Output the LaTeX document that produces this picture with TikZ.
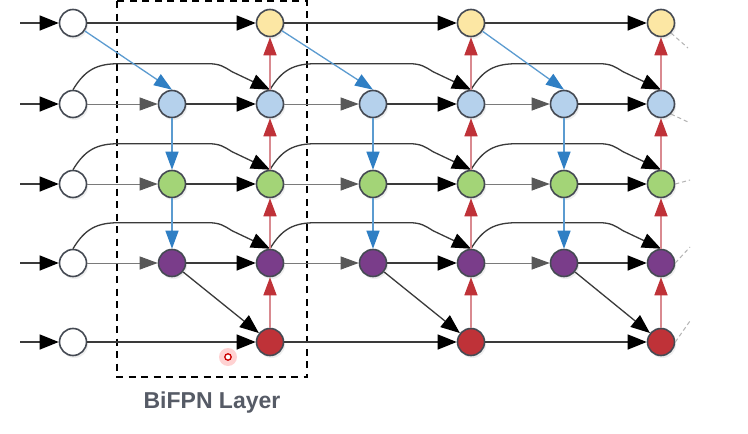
\documentclass[tikz,border=0pt]{standalone}
\usepackage{fontspec}
\setmainfont{Liberation Sans}
\usetikzlibrary{arrows.meta,calc,shadows}
\definecolor{cYel}{HTML}{FCE7A4}
\definecolor{cBlu}{HTML}{B5D1EC}
\definecolor{cGrn}{HTML}{A3D477}
\definecolor{cPur}{HTML}{7A3D8A}
\definecolor{cRed}{HTML}{BF3238}
\definecolor{cRim}{HTML}{454a53}
\definecolor{cLine}{HTML}{3a3a3a}
\definecolor{cLight}{HTML}{7a7a7a}
\definecolor{cBlueL}{HTML}{5b9bd0}
\definecolor{cBlueH}{HTML}{2f7fc4}
\definecolor{cRedL}{HTML}{d98a90}
\definecolor{cTxt}{HTML}{565b66}
\tikzset{
  fnode/.style={circle,draw=cRim,line width=1.6pt,minimum size=27pt,inner sep=0pt,
    drop shadow={opacity=0.13,shadow xshift=1.5pt,shadow yshift=-2.5pt}},
  blk/.style={draw=cLine,line width=1.3pt,-{Triangle[length=19pt,width=15pt,color=black,fill=black]}},
  lgt/.style={draw=cLight,line width=1pt,-{Triangle[length=18pt,width=13pt,fill=cLine!85,color=cLine!85]}},
  blu/.style={draw=cBlueL,line width=1.3pt,-{Triangle[length=18pt,width=13pt,color=cBlueH,fill=cBlueH]}},
  rdd/.style={draw=cRedL,line width=1.6pt,-{Triangle[length=18pt,width=13pt,color=cRed,fill=cRed]}},
  skp/.style={draw=cLine,line width=1.3pt,-{Triangle[length=19pt,width=15pt,color=black,fill=black]}},
  rmark/.style={draw=gray!60,line width=1pt,dash pattern=on 4pt off 3pt},
}
\begin{document}
\begin{tikzpicture}[x=1pt,y=-1pt]
\useasboundingbox (0,0) rectangle (748,434);
\fill[white] (0,0) rectangle (748,434);
% dashed layer box
\draw[black,line width=2pt,dash pattern=on 7pt off 5.5pt] (117,1) rectangle (307,377);
\node[font=\bfseries,text=cTxt,scale=2.3] (lbl) at (212,403) {BiFPN Layer};
% cursor mark
\fill[red!25,opacity=0.7] (228,357) circle (9pt);
\draw[red!80!black,line width=1.3pt,fill=white] (228,357) circle (3.2pt) node (cur) {};
% nodes
\foreach \r/\y/\c in {0/23/white,1/104/white,2/184/white,3/263/white,4/342/white}
  \node[fnode,fill=\c] (i\r) at (73,\y) {};
\foreach \cx/\c in {2/270,4/471,6/661}{
  \node[fnode,fill=cYel] (o\cx0) at (\c,23) {};
  \node[fnode,fill=cBlu] (o\cx1) at (\c,104) {};
  \node[fnode,fill=cGrn] (o\cx2) at (\c,184) {};
  \node[fnode,fill=cPur] (o\cx3) at (\c,263) {};
  \node[fnode,fill=cRed] (o\cx4) at (\c,342) {};
}
\foreach \cx/\c in {1/172,3/373,5/564}{
  \node[fnode,fill=cBlu] (m\cx1) at (\c,104) {};
  \node[fnode,fill=cGrn] (m\cx2) at (\c,184) {};
  \node[fnode,fill=cPur] (m\cx3) at (\c,263) {};
}
% input arrows
\foreach \r/\y in {0/23,1/104,2/184,3/263,4/342}{
  \coordinate (s\r) at (20,\y);
  \draw[blk] (s\r) -- (i\r);
}
% rows 0 and 4
\foreach \r in {0,4}{
  \draw[blk] (i\r) -- (o2\r);
  \draw[blk] (o2\r) -- (o4\r);
  \draw[blk] (o4\r) -- (o6\r);
}
% rows 1-3
\foreach \r in {1,2,3}{
  \draw[lgt] (i\r) -- (m1\r);
  \draw[blk] (m1\r) -- (o2\r);
  \draw[lgt] (o2\r) -- (m3\r);
  \draw[blk] (m3\r) -- (o4\r);
  \draw[lgt] (o4\r) -- (m5\r);
  \draw[blk] (m5\r) -- (o6\r);
}
% skip curves
\foreach \r in {1,2,3}{
  \foreach \a/\b in {i\r/o2\r,o2\r/o4\r,o4\r/o6\r}{
    \draw[skp] (\a.north) .. controls ($(\a.north)+(12,-20)$) and ($(\a.north)+(24,-26)$) .. ($(\a.north)+(46,-26)$)
      -- ($(\b.north)+(-62,-26)$) .. controls ($(\b.north)+(-50,-26)$) and ($(\b.north)+(-46,-23)$) .. ($(\b.north)+(-38,-18)$)
      -- (\b.north);
  }
}
% blue top-down
\draw[blu] (i0) -- (m11.north);
\draw[blu] (o20) -- (m31.north);
\draw[blu] (o40) -- (m51.north);
\foreach \c in {1,3,5}{
  \draw[blu] (m\c1) -- (m\c2);
  \draw[blu] (m\c2) -- (m\c3);
}
% black diagonals to bottom
\draw[blk] (m13) -- (o24);
\draw[blk] (m33) -- (o44);
\draw[blk] (m53) -- (o64);
% red bottom-up
\foreach \c in {2,4,6}{
  \draw[rdd] (o\c4) -- (o\c3);
  \draw[rdd] (o\c3) -- (o\c2);
  \draw[rdd] (o\c2) -- (o\c1);
  \draw[rdd] (o\c1) -- (o\c0);
}
% faint partial marks at right edge
\coordinate (e0) at (688,48);
\coordinate (e1) at (688,122);
\coordinate (e2) at (690,180);
\coordinate (e3) at (690,247);
\coordinate (e4) at (690,321);
\foreach \r in {0,1}{ \draw[rmark] (o6\r.south east) -- (e\r); }
\foreach \r in {2,3,4}{ \draw[rmark] (o6\r.east) -- (e\r); }
\end{tikzpicture}
\end{document}
